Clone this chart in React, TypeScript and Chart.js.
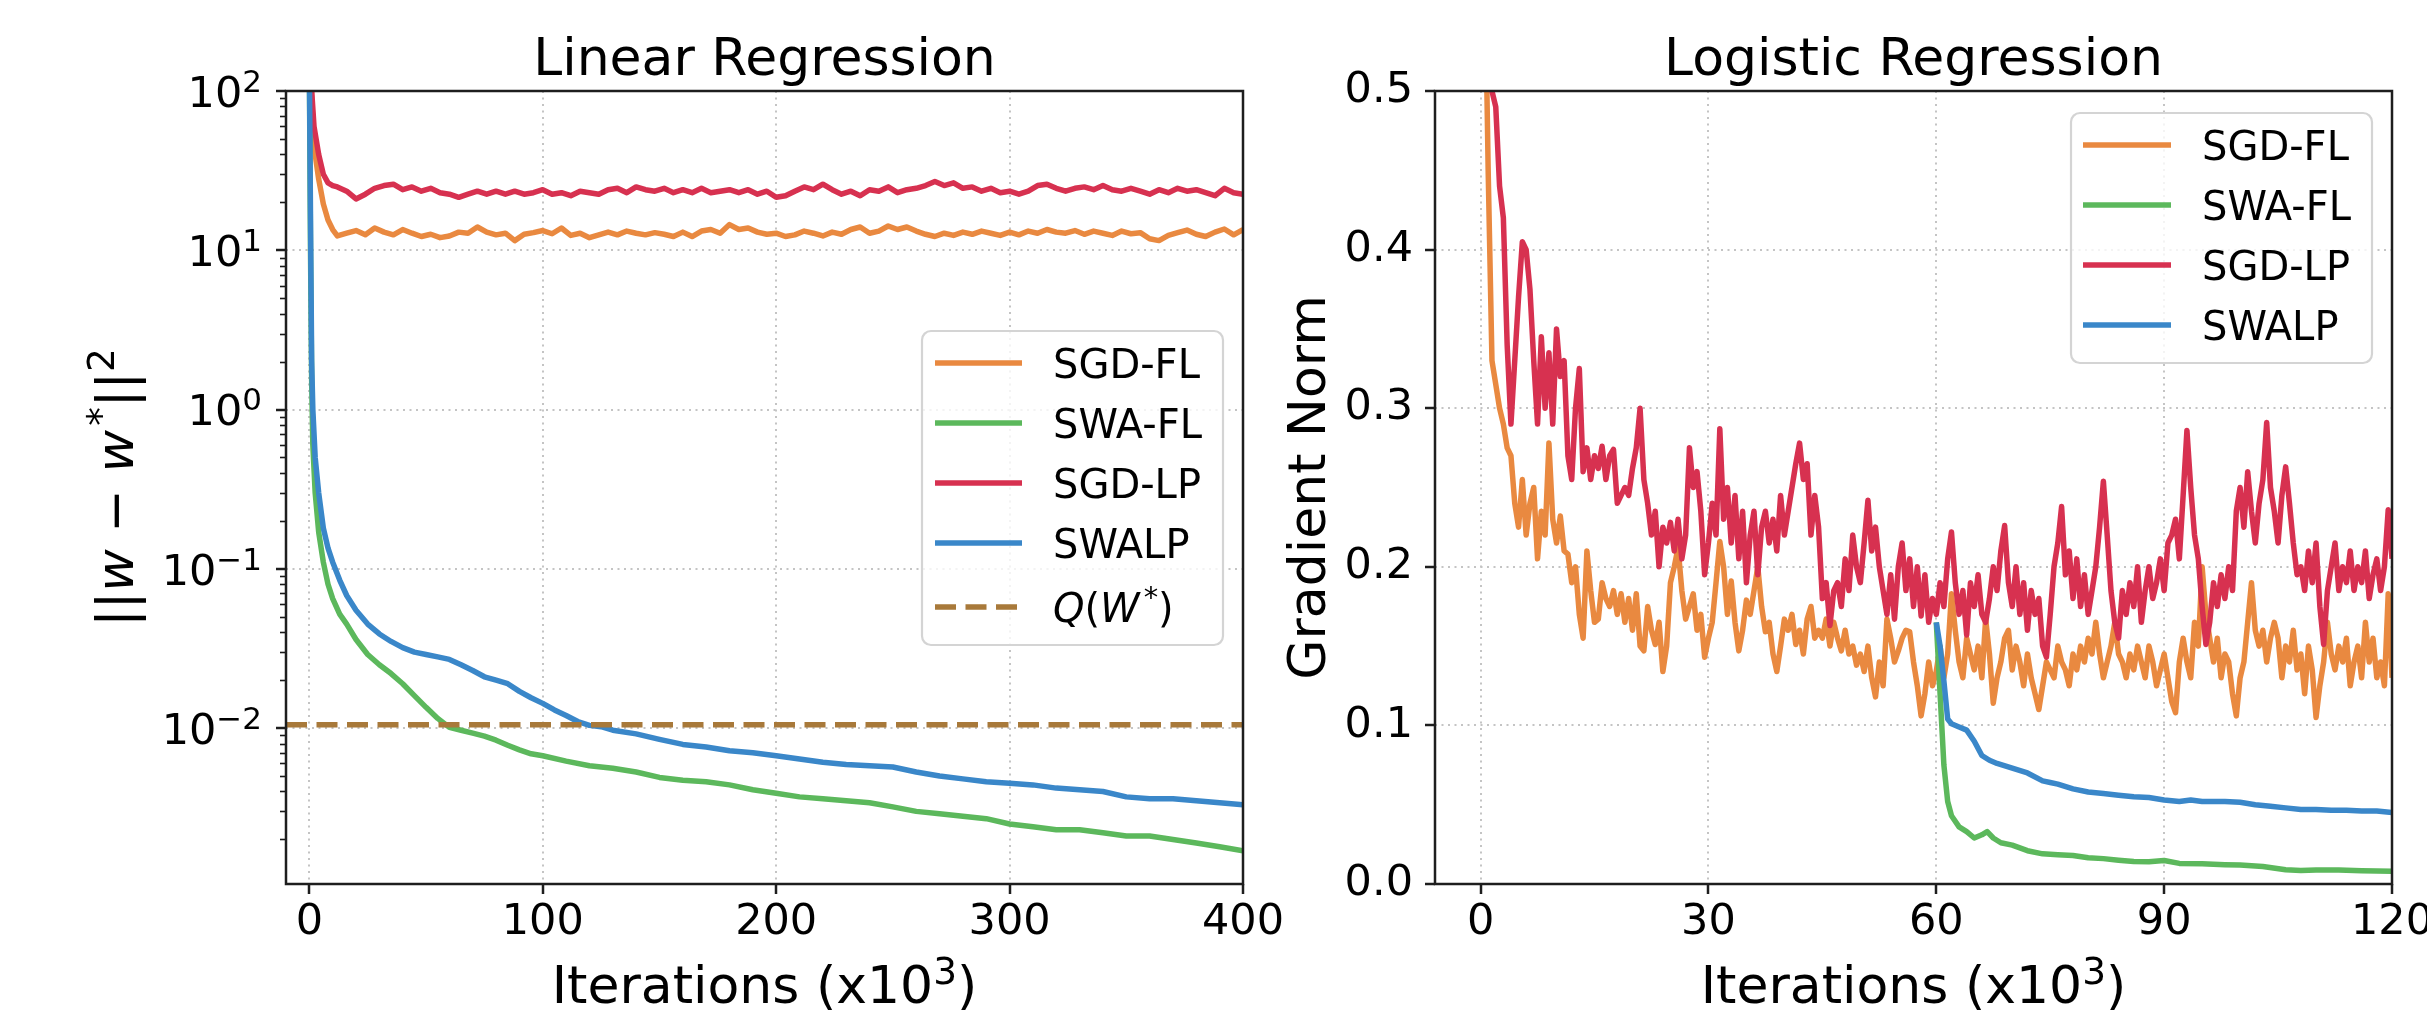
import React, { useEffect, useRef } from "react";
import { Chart, registerables } from "chart.js";

Chart.register(...registerables);

// ---------------- data ----------------
// Left panel: Linear Regression (x in 10^3 iterations, log y)
const LR_X_TICKS = [0, 100, 200, 300, 400];
const LR_Y_TICKS = [0.01, 0.1, 1, 10, 100];
const LR_Y_EXPONENTS = ["\u22122", "\u22121", "0", "1", "2"];

const LR_NOISY_HEAD_X = [0.5, 2, 4, 6, 8, 10];
const LR_NOISY_GRID_START = 12;
const LR_NOISY_GRID_STEP = 4;

const LR_SGDFL_HEAD = [130, 45, 28, 19.5, 15.5, 13.5];
const LR_SGDFL = [
  12.3, 12.8, 13.3, 12.5, 13.8, 13.0, 12.5, 13.5, 12.8, 12.2,
  12.6, 12.0, 12.3, 13.0, 12.8, 14.0, 13.0, 12.5, 12.8, 11.5,
  12.6, 12.9, 13.3, 12.7, 13.8, 12.4, 12.8, 12.0, 12.5, 13.0,
  12.5, 13.2, 12.8, 12.5, 12.9, 12.6, 12.2, 13.0, 12.2, 13.2,
  13.5, 12.8, 14.5, 13.5, 13.8, 13.0, 12.6, 12.8, 12.2, 12.5,
  13.2, 12.8, 12.3, 13.0, 12.6, 13.5, 14.0, 12.8, 13.2, 14.2,
  13.5, 14.0, 13.2, 12.6, 12.2, 12.8, 12.4, 13.0, 12.6, 13.2,
  12.8, 12.4, 13.0, 12.5, 13.2, 12.8, 13.5, 13.0, 12.8, 13.3,
  12.6, 13.2, 12.8, 12.4, 13.2, 12.7, 12.9, 11.8, 11.5, 12.4,
  12.9, 13.4, 12.6, 12.2, 13.0, 13.6, 12.5, 13.5,
];

const LR_SGDLP_HEAD = [130, 60, 40, 30, 26.5, 25.5];
const LR_SGDLP = [
  25.0, 23.5, 21.0, 22.5, 24.5, 25.5, 26.0, 24.0, 25.0, 23.5,
  24.5, 23.0, 22.5, 21.5, 22.5, 23.5, 22.5, 23.5, 22.5, 23.5,
  22.5, 23.0, 24.0, 22.5, 23.0, 22.0, 23.5, 23.0, 22.5, 24.0,
  24.5, 23.0, 25.0, 24.0, 23.5, 24.5, 23.0, 24.0, 23.0, 24.5,
  23.0, 23.5, 24.0, 23.0, 24.0, 22.5, 23.5, 21.5, 22.0, 23.5,
  25.0, 24.0, 26.0, 24.0, 22.5, 23.5, 22.0, 24.0, 23.5, 25.0,
  23.0, 24.0, 24.5, 25.5, 27.0, 25.5, 26.5, 24.5, 25.0, 23.5,
  24.5, 23.0, 23.5, 22.5, 23.5, 25.5, 26.0, 24.5, 23.5, 24.5,
  25.0, 24.0, 25.5, 24.0, 23.5, 24.5, 23.5, 22.5, 24.0, 23.0,
  24.5, 23.5, 24.0, 23.0, 22.0, 24.5, 23.0, 22.5,
];

const LR_SWAFL_X = [
  0, 0.5, 1, 1.5, 2.5, 4, 6, 8, 10, 13, 16, 20, 25, 30, 35, 40, 45, 50, 55, 60,
  65, 70, 75, 80, 85, 90, 95, 100, 110, 120, 130, 140, 150, 160, 170, 180, 190, 200,
  210, 220, 230, 240, 250, 260, 270, 280, 290, 300, 310, 320, 330, 340, 350, 360, 370, 380, 390, 400,
];
const LR_SWAFL = [
  150, 10, 1.5, 0.6, 0.3, 0.17, 0.11, 0.08, 0.065, 0.052,
  0.045, 0.036, 0.029, 0.025, 0.022, 0.019, 0.016, 0.0135, 0.0115, 0.0101,
  0.0097, 0.0093, 0.0089, 0.0084, 0.0078, 0.0073, 0.0069, 0.0067,
  0.0062, 0.0058, 0.0056, 0.0053, 0.0049, 0.0047, 0.0046, 0.0044, 0.0041, 0.0039,
  0.0037, 0.0036, 0.0035, 0.0034, 0.0032, 0.0030, 0.0029, 0.0028, 0.0027, 0.0025,
  0.0024, 0.0023, 0.0023, 0.0022, 0.0021, 0.0021, 0.0020, 0.0019, 0.0018, 0.0017,
];

const LR_SWALP_X = [
  0, 0.6, 1, 1.5, 2.5, 4, 6, 8, 10, 13, 16, 20, 25, 30, 35, 40, 45, 50, 55, 60,
  65, 70, 75, 80, 85, 90, 95, 100, 105, 110, 115, 120, 125, 130, 140, 150, 160, 170, 180, 190,
  200, 210, 220, 230, 240, 250, 260, 270, 280, 290, 300, 310, 320, 330, 340, 350, 360, 370, 380, 390, 400,
];
const LR_SWALP = [
  150, 10, 2.0, 1.0, 0.5, 0.3, 0.18, 0.135, 0.11, 0.085,
  0.068, 0.055, 0.045, 0.039, 0.035, 0.032, 0.030, 0.029, 0.028, 0.027,
  0.025, 0.023, 0.021, 0.020, 0.019, 0.017, 0.0155, 0.0143, 0.013, 0.012,
  0.011, 0.0104, 0.0102, 0.0097, 0.0092, 0.0085, 0.0079, 0.0076, 0.0072, 0.0070,
  0.0067, 0.0064, 0.0061, 0.0059, 0.0058, 0.0057, 0.0053, 0.0050, 0.0048, 0.0046,
  0.0045, 0.0044, 0.0042, 0.0041, 0.0040, 0.0037, 0.0036, 0.0036, 0.0035, 0.0034,
  0.0033,
];

const LR_Q_X = [-10, 400];
const LR_Q = [0.0105, 0.0105];

// Right panel: Logistic Regression
const LOG_X_TICKS = [0, 30, 60, 90, 120];
const LOG_Y_TICKS = [0, 0.1, 0.2, 0.3, 0.4, 0.5];
const LOG_NOISY_START = 0.5;
const LOG_NOISY_STEP = 0.5;

const LOG_SGDFL = [
  0.6, 0.45, 0.33, 0.315, 0.30, 0.29, 0.275, 0.27, 0.24, 0.225,
  0.255, 0.22, 0.24, 0.25, 0.205, 0.235, 0.22, 0.278, 0.23, 0.215,
  0.232, 0.21, 0.208, 0.19, 0.2, 0.17, 0.155, 0.21, 0.185, 0.165,
  0.167, 0.19, 0.18, 0.175, 0.185, 0.17, 0.183, 0.165, 0.18, 0.16,
  0.183, 0.15, 0.147, 0.175, 0.16, 0.151, 0.165, 0.134, 0.15, 0.19,
  0.2, 0.212, 0.185, 0.167, 0.175, 0.183, 0.16, 0.17, 0.143, 0.155,
  0.165, 0.19, 0.216, 0.2, 0.17, 0.191, 0.165, 0.147, 0.16, 0.179,
  0.17, 0.185, 0.2, 0.175, 0.159, 0.165, 0.145, 0.134, 0.15, 0.167,
  0.16, 0.17, 0.151, 0.16, 0.145, 0.167, 0.175, 0.155, 0.16, 0.155,
  0.167, 0.15, 0.165, 0.155, 0.147, 0.16, 0.145, 0.15, 0.138, 0.145,
  0.134, 0.15, 0.13, 0.118, 0.14, 0.125, 0.167, 0.155, 0.14, 0.147,
  0.155, 0.16, 0.159, 0.14, 0.125, 0.106, 0.12, 0.14, 0.125, 0.134,
  0.15, 0.13, 0.145, 0.183, 0.16, 0.14, 0.13, 0.155, 0.145, 0.135,
  0.15, 0.13, 0.167, 0.145, 0.114, 0.13, 0.14, 0.155, 0.16, 0.135,
  0.15, 0.14, 0.125, 0.145, 0.13, 0.12, 0.11, 0.125, 0.14, 0.135,
  0.13, 0.15, 0.14, 0.135, 0.125, 0.145, 0.135, 0.15, 0.14, 0.155,
  0.145, 0.165, 0.145, 0.13, 0.14, 0.15, 0.165, 0.145, 0.14, 0.13,
  0.145, 0.135, 0.15, 0.14, 0.13, 0.15, 0.14, 0.125, 0.135, 0.145,
  0.13, 0.115, 0.108, 0.14, 0.155, 0.14, 0.13, 0.165, 0.15, 0.2,
  0.17, 0.155, 0.14, 0.155, 0.13, 0.145, 0.14, 0.12, 0.106, 0.13,
  0.14, 0.165, 0.19, 0.16, 0.15, 0.16, 0.14, 0.155, 0.165, 0.155,
  0.13, 0.15, 0.14, 0.16, 0.135, 0.145, 0.12, 0.15, 0.135, 0.105,
  0.125, 0.14, 0.165, 0.145, 0.135, 0.15, 0.14, 0.155, 0.125, 0.14,
  0.15, 0.13, 0.165, 0.14, 0.155, 0.13, 0.14, 0.125, 0.183, 0.13,
];

const LOG_SGDLP = [
  0.65, 0.58, 0.50, 0.49, 0.44, 0.42, 0.34, 0.29, 0.33, 0.37,
  0.405, 0.40, 0.375, 0.33, 0.29, 0.345, 0.30, 0.335, 0.29, 0.35,
  0.32, 0.33, 0.27, 0.255, 0.30, 0.325, 0.26, 0.275, 0.255, 0.27,
  0.262, 0.276, 0.255, 0.27, 0.274, 0.24, 0.245, 0.25, 0.245, 0.262,
  0.275, 0.30, 0.255, 0.24, 0.22, 0.235, 0.2, 0.225, 0.215, 0.228,
  0.21, 0.23, 0.205, 0.22, 0.275, 0.25, 0.26, 0.235, 0.195, 0.215,
  0.24, 0.22, 0.287, 0.23, 0.25, 0.215, 0.245, 0.205, 0.235, 0.19,
  0.22, 0.235, 0.195, 0.225, 0.235, 0.215, 0.23, 0.21, 0.245, 0.22,
  0.235, 0.25, 0.265, 0.278, 0.255, 0.265, 0.22, 0.245, 0.225, 0.18,
  0.19, 0.163, 0.185, 0.19, 0.175, 0.205, 0.185, 0.22, 0.2, 0.19,
  0.215, 0.242, 0.21, 0.225, 0.2, 0.185, 0.17, 0.195, 0.167, 0.2,
  0.215, 0.185, 0.205, 0.175, 0.2, 0.169, 0.195, 0.165, 0.18, 0.17,
  0.19, 0.175, 0.205, 0.222, 0.19, 0.17, 0.185, 0.157, 0.19, 0.175,
  0.195, 0.17, 0.165, 0.18, 0.2, 0.185, 0.21, 0.226, 0.19, 0.175,
  0.2, 0.17, 0.19, 0.16, 0.185, 0.17, 0.18, 0.15, 0.143, 0.17,
  0.2, 0.215, 0.238, 0.195, 0.21, 0.18, 0.205, 0.175, 0.195, 0.17,
  0.185, 0.2, 0.225, 0.254, 0.22, 0.185, 0.165, 0.155, 0.185, 0.17,
  0.19, 0.175, 0.2, 0.165, 0.185, 0.2, 0.18, 0.19, 0.205, 0.185,
  0.215, 0.22, 0.23, 0.205, 0.245, 0.286, 0.25, 0.22, 0.205, 0.175,
  0.151, 0.165, 0.19, 0.175, 0.195, 0.18, 0.2, 0.185, 0.235, 0.25,
  0.225, 0.26, 0.235, 0.215, 0.24, 0.255, 0.291, 0.25, 0.235, 0.215,
  0.245, 0.263, 0.24, 0.215, 0.195, 0.2, 0.185, 0.21, 0.19, 0.215,
  0.175, 0.151, 0.185, 0.2, 0.215, 0.185, 0.2, 0.19, 0.21, 0.185,
  0.2, 0.19, 0.21, 0.18, 0.195, 0.205, 0.185, 0.2, 0.236, 0.205,
];

const LOG_SWAFL_X = [60, 60.5, 61, 61.5, 62, 63, 64, 65, 66, 66.7, 67.5, 68.5, 70, 72, 74, 76, 78, 80, 82, 84, 86, 88, 90, 92, 95, 98, 100, 103, 106, 108, 110, 113, 116, 120];
const LOG_SWAFL = [0.165, 0.12, 0.075, 0.052, 0.043, 0.036, 0.033, 0.029, 0.031, 0.033, 0.029, 0.026, 0.0245, 0.021, 0.019, 0.0185, 0.018, 0.0165, 0.016, 0.015, 0.0142, 0.014, 0.0148, 0.013, 0.0128, 0.0122, 0.012, 0.011, 0.009, 0.0085, 0.0088, 0.0088, 0.0084, 0.008];

const LOG_SWALP_X = [60, 60.5, 61, 61.5, 62, 63, 64, 65, 66, 67, 68, 70, 72, 74, 75, 76, 78, 80, 82, 84, 86, 88, 90, 92, 93.5, 95, 98, 100, 102, 104, 106, 108, 110, 112, 114, 116, 118, 120];
const LOG_SWALP = [0.165, 0.15, 0.128, 0.104, 0.101, 0.099, 0.097, 0.09, 0.081, 0.078, 0.076, 0.073, 0.070, 0.065, 0.064, 0.063, 0.060, 0.058, 0.057, 0.056, 0.055, 0.0545, 0.053, 0.052, 0.053, 0.052, 0.052, 0.0515, 0.050, 0.049, 0.048, 0.047, 0.047, 0.0465, 0.0465, 0.046, 0.046, 0.045];

// ---------------- styles ----------------
const FAMILY = "'DejaVu Sans'";
const C_ORANGE = "rgb(233,137,64)";
const C_GREEN = "rgb(92,184,92)";
const C_RED = "rgb(215,49,80)";
const C_BLUE = "rgb(58,135,201)";
const C_BROWN = "rgb(168,121,58)";
const LINE_W = 5.5;
const TICK_SIZE = 43;
const LABEL_SIZE = 52;
const TITLE_SIZE = 52;
const LEGEND_SIZE = 40;
const SUP_SCALE = 0.72;

type Part = { t: string; it?: boolean; sup?: boolean; pad?: number };

function gridX(start: number, step: number, n: number): number[] {
  const a: number[] = [];
  for (let i = 0; i < n; i++) a.push(+(start + i * step).toFixed(4));
  return a;
}
function pts(xs: number[], ys: number[]) {
  const n = Math.min(xs.length, ys.length);
  const out: { x: number; y: number }[] = [];
  for (let i = 0; i < n; i++) out.push({ x: xs[i], y: ys[i] });
  return out;
}
function fontStr(size: number, italic?: boolean) {
  return `${italic ? "italic " : ""}${size}px ${FAMILY}`;
}
function partsWidth(ctx: CanvasRenderingContext2D, parts: Part[], size: number) {
  let w = 0;
  for (const p of parts) {
    ctx.font = fontStr(p.sup ? size * SUP_SCALE : size, p.it);
    w += ctx.measureText(p.t).width + (p.pad || 0) * size;
  }
  return w;
}
function drawParts(ctx: CanvasRenderingContext2D, parts: Part[], x: number, y: number, size: number) {
  let cx = x;
  for (const p of parts) {
    cx += (p.pad || 0) * size;
    const s = p.sup ? size * SUP_SCALE : size;
    ctx.font = fontStr(s, p.it);
    ctx.fillText(p.t, cx, p.sup ? y - size * 0.36 : y);
    cx += ctx.measureText(p.t).width;
  }
}

interface LegendRow { label: Part[]; color: string; dash?: number[]; y: number }
interface DecorCfg {
  title: string;
  titleY: number;
  xLabel: Part[];
  xLabelY: number;
  yLabel: Part[];
  yLabelX: number;
  legend: { x: number; y: number; w: number; h: number; x0: number; x1: number; tx: number; rows: LegendRow[] };
  logLabels?: { values: number[]; exps: string[] };
}

function makeDecor(cfg: DecorCfg) {
  return {
    id: "decor",
    afterDraw(chart: any) {
      const ctx: CanvasRenderingContext2D = chart.ctx;
      const a = chart.chartArea;
      ctx.save();
      ctx.fillStyle = "#000";
      ctx.textBaseline = "alphabetic";
      ctx.textAlign = "left";

      // log axis: minor ticks + 10^k labels
      if (cfg.logLabels) {
        const ys = chart.scales.y;
        ctx.strokeStyle = "#1a1a1a";
        ctx.lineWidth = 1.6;
        for (let e = -4; e <= 2; e++) {
          for (let k = 2; k <= 9; k++) {
            const v = k * Math.pow(10, e);
            if (v < ys.min || v > ys.max) continue;
            const py = Math.round(ys.getPixelForValue(v)) + 0.5;
            ctx.beginPath();
            ctx.moveTo(a.left, py);
            ctx.lineTo(a.left - 6, py);
            ctx.stroke();
          }
        }
        const { values, exps } = cfg.logLabels;
        for (let i = 0; i < values.length; i++) {
          const py = ys.getPixelForValue(values[i]);
          const base = py + TICK_SIZE * 0.365;
          ctx.font = fontStr(TICK_SIZE);
          const w1 = ctx.measureText("10").width;
          ctx.font = fontStr(TICK_SIZE * SUP_SCALE);
          const w2 = ctx.measureText(exps[i]).width;
          const right = a.left - 24;
          const x0 = right - w1 - w2;
          ctx.font = fontStr(TICK_SIZE);
          ctx.fillText("10", x0, base);
          ctx.font = fontStr(TICK_SIZE * SUP_SCALE);
          ctx.fillText(exps[i], x0 + w1, base - 15);
        }
      }

      // spines
      ctx.strokeStyle = "#1e1e1e";
      ctx.lineWidth = 2.5;
      ctx.strokeRect(a.left, a.top, a.right - a.left, a.bottom - a.top);

      const cx = (a.left + a.right) / 2;
      // title
      ctx.fillStyle = "#000";
      ctx.font = fontStr(TITLE_SIZE);
      const tw = ctx.measureText(cfg.title).width;
      ctx.fillText(cfg.title, cx - tw / 2, cfg.titleY);

      // x label
      const xw = partsWidth(ctx, cfg.xLabel, LABEL_SIZE);
      drawParts(ctx, cfg.xLabel, cx - xw / 2, cfg.xLabelY, LABEL_SIZE);

      // y label (rotated)
      const yw = partsWidth(ctx, cfg.yLabel, LABEL_SIZE);
      ctx.save();
      ctx.translate(cfg.yLabelX, (a.top + a.bottom) / 2);
      ctx.rotate(-Math.PI / 2);
      drawParts(ctx, cfg.yLabel, -yw / 2, 0, LABEL_SIZE);
      ctx.restore();

      // legend
      const L = cfg.legend;
      const r = 9;
      ctx.beginPath();
      ctx.moveTo(L.x + r, L.y);
      ctx.lineTo(L.x + L.w - r, L.y);
      ctx.arcTo(L.x + L.w, L.y, L.x + L.w, L.y + r, r);
      ctx.lineTo(L.x + L.w, L.y + L.h - r);
      ctx.arcTo(L.x + L.w, L.y + L.h, L.x + L.w - r, L.y + L.h, r);
      ctx.lineTo(L.x + r, L.y + L.h);
      ctx.arcTo(L.x, L.y + L.h, L.x, L.y + L.h - r, r);
      ctx.lineTo(L.x, L.y + r);
      ctx.arcTo(L.x, L.y, L.x + r, L.y, r);
      ctx.closePath();
      ctx.fillStyle = "rgba(255,255,255,0.8)";
      ctx.fill();
      ctx.strokeStyle = "#d4d4d4";
      ctx.lineWidth = 2.2;
      ctx.stroke();

      for (const row of L.rows) {
        ctx.save();
        ctx.strokeStyle = row.color;
        ctx.lineWidth = 5.5;
        ctx.lineCap = "butt";
        ctx.setLineDash(row.dash || []);
        ctx.beginPath();
        ctx.moveTo(L.x0, row.y);
        ctx.lineTo(L.x1, row.y);
        ctx.stroke();
        ctx.restore();
        ctx.fillStyle = "#000";
        drawParts(ctx, row.label, L.tx, row.y + LEGEND_SIZE * 0.365, LEGEND_SIZE);
      }
      ctx.restore();
    },
  };
}

function axisCommon() {
  return {
    grid: {
      color: "#c4c4c4",
      lineWidth: 2,
      drawTicks: true,
      tickLength: 10,
      tickWidth: 2.5,
      tickColor: "#1e1e1e",
    },
    border: { display: false, dash: [2, 4.5] },
  };
}

const X_LABEL: Part[] = [{ t: "Iterations (x10" }, { t: "3", sup: true }, { t: ")" }];

function lineDs(label: string, data: { x: number; y: number }[], color: string, order: number, dash?: number[]) {
  return {
    label,
    data,
    borderColor: color,
    backgroundColor: color,
    borderWidth: LINE_W,
    borderDash: dash || [],
    borderJoinStyle: "round" as const,
    borderCapStyle: "butt" as const,
    pointRadius: 0,
    tension: 0,
    fill: false,
    order,
    clip: 0,
  };
}

export default function App() {
  const leftRef = useRef<HTMLCanvasElement>(null);
  const rightRef = useRef<HTMLCanvasElement>(null);

  useEffect(() => {
    Chart.defaults.font.family = FAMILY;
    Chart.defaults.color = "#000";

    const lrNoisyX = [...LR_NOISY_HEAD_X, ...gridX(LR_NOISY_GRID_START, LR_NOISY_GRID_STEP, LR_SGDFL.length)];
    const logNoisyX = gridX(LOG_NOISY_START, LOG_NOISY_STEP, LOG_SGDFL.length);

    const left = new Chart(leftRef.current!, {
      type: "line",
      data: {
        datasets: [
          lineDs("SGD-FL", pts(lrNoisyX, [...LR_SGDFL_HEAD, ...LR_SGDFL]), C_ORANGE, 5),
          lineDs("SWA-FL", pts(LR_SWAFL_X, LR_SWAFL), C_GREEN, 4),
          lineDs("SGD-LP", pts(lrNoisyX, [...LR_SGDLP_HEAD, ...LR_SGDLP]), C_RED, 3),
          lineDs("SWALP", pts(LR_SWALP_X, LR_SWALP), C_BLUE, 2),
          lineDs("Q(W*)", pts(LR_Q_X, LR_Q), C_BROWN, 1, [21, 9.5]),
        ] as any,
      },
      options: {
        animation: false,
        responsive: false,
        devicePixelRatio: 1,
        events: [],
        layout: { padding: { left: 146, right: 57, top: 91, bottom: 69 } },
        plugins: { legend: { display: false }, tooltip: { enabled: false }, title: { display: false } },
        scales: {
          x: {
            type: "linear",
            min: -10,
            max: 400,
            bounds: "data",
            afterBuildTicks: (s: any) => {
              s.ticks = LR_X_TICKS.map((v) => ({ value: v }));
            },
            afterFit: (s: any) => {
              s.height = 60;
            },
            ticks: {
              font: { family: FAMILY, size: TICK_SIZE },
              color: "#000",
              padding: 3,
              maxRotation: 0,
              autoSkip: false,
              callback: (v: any) => String(v),
            },
            ...axisCommon(),
          },
          y: {
            type: "logarithmic",
            min: 0.00105,
            max: 100,
            bounds: "data",
            afterBuildTicks: (s: any) => {
              s.ticks = LR_Y_TICKS.map((v) => ({ value: v }));
            },
            afterFit: (s: any) => {
              s.width = 140;
            },
            ticks: { display: false },
            ...axisCommon(),
          },
        },
      } as any,
      plugins: [
        makeDecor({
          title: "Linear Regression",
          titleY: 75,
          xLabel: X_LABEL,
          xLabelY: 1003,
          yLabel: [
            { t: "||" },
            { t: "w", it: true },
            { t: " \u2212 " },
            { t: "w", it: true },
            { t: "*", sup: true, pad: 0.08 },
            { t: "||" },
            { t: "2", sup: true },
          ],
          yLabelX: 133,
          legend: {
            x: 922,
            y: 331,
            w: 301,
            h: 314,
            x0: 935,
            x1: 1022,
            tx: 1053,
            rows: [
              { label: [{ t: "SGD-FL" }], color: C_ORANGE, y: 363 },
              { label: [{ t: "SWA-FL" }], color: C_GREEN, y: 423 },
              { label: [{ t: "SGD-LP" }], color: C_RED, y: 483 },
              { label: [{ t: "SWALP" }], color: C_BLUE, y: 543 },
              {
                label: [{ t: "Q", it: true }, { t: "(" }, { t: "W", it: true }, { t: "*", sup: true, pad: 0.1 }, { t: ")" }],
                color: C_BROWN,
                dash: [21, 9.5],
                y: 607,
              },
            ],
          },
          logLabels: { values: LR_Y_TICKS, exps: LR_Y_EXPONENTS },
        }),
      ],
    });

    const right = new Chart(rightRef.current!, {
      type: "line",
      data: {
        datasets: [
          lineDs("SGD-FL", pts(logNoisyX, LOG_SGDFL), C_ORANGE, 5),
          lineDs("SWA-FL", pts(LOG_SWAFL_X, LOG_SWAFL), C_GREEN, 4),
          lineDs("SGD-LP", pts(logNoisyX, LOG_SGDLP), C_RED, 3),
          lineDs("SWALP", pts(LOG_SWALP_X, LOG_SWALP), C_BLUE, 2),
        ] as any,
      },
      options: {
        animation: false,
        responsive: false,
        devicePixelRatio: 1,
        events: [],
        layout: { padding: { left: 55, right: 108, top: 91, bottom: 69 } },
        plugins: { legend: { display: false }, tooltip: { enabled: false }, title: { display: false } },
        scales: {
          x: {
            type: "linear",
            min: -6,
            max: 120,
            bounds: "data",
            afterBuildTicks: (s: any) => {
              s.ticks = LOG_X_TICKS.map((v) => ({ value: v }));
            },
            afterFit: (s: any) => {
              s.height = 60;
            },
            ticks: {
              font: { family: FAMILY, size: TICK_SIZE },
              color: "#000",
              padding: 3,
              maxRotation: 0,
              autoSkip: false,
              callback: (v: any) => String(v),
            },
            ...axisCommon(),
          },
          y: {
            type: "linear",
            min: 0,
            max: 0.5,
            bounds: "data",
            afterBuildTicks: (s: any) => {
              s.ticks = LOG_Y_TICKS.map((v) => ({ value: v }));
            },
            afterFit: (s: any) => {
              s.width = 120;
            },
            ticks: {
              font: { family: FAMILY, size: TICK_SIZE },
              color: "#000",
              padding: 12,
              callback: (v: any) => Number(v).toFixed(1),
            },
            ...axisCommon(),
          },
        },
      } as any,
      plugins: [
        makeDecor({
          title: "Logistic Regression",
          titleY: 75,
          xLabel: X_LABEL,
          xLabelY: 1003,
          yLabel: [{ t: "Gradient Norm" }],
          yLabelX: 65,
          legend: {
            x: 811,
            y: 113,
            w: 301,
            h: 250,
            x0: 823,
            x1: 911,
            tx: 942,
            rows: [
              { label: [{ t: "SGD-FL" }], color: C_ORANGE, y: 145 },
              { label: [{ t: "SWA-FL" }], color: C_GREEN, y: 205 },
              { label: [{ t: "SGD-LP" }], color: C_RED, y: 265 },
              { label: [{ t: "SWALP" }], color: C_BLUE, y: 325 },
            ],
          },
        }),
      ],
    });

    return () => {
      left.destroy();
      right.destroy();
    };
  }, []);

  return (
    <div
      style={{
        position: "absolute",
        left: 0,
        top: 0,
        width: 2427,
        height: 1013,
        overflow: "hidden",
        background: "#fff",
      }}
    >
      <canvas ref={leftRef} width={1300} height={1013} style={{ position: "absolute", left: 0, top: 0 }} />
      <canvas ref={rightRef} width={1240} height={1013} style={{ position: "absolute", left: 1260, top: 0 }} />
    </div>
  );
}
